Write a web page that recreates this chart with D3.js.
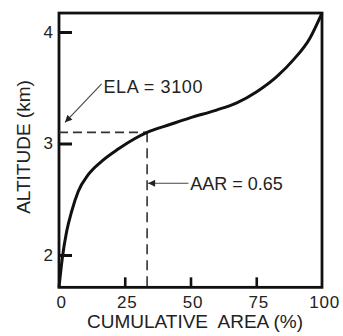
<!DOCTYPE html>
<html>
<head>
<meta charset="utf-8">
<script src="https://cdn.jsdelivr.net/npm/d3@7"></script>
<style>
  html, body { margin: 0; padding: 0; background: #fff; }
  svg { display: block; font-family: "Liberation Sans", Arial, Helvetica, sans-serif; }
</style>
</head>
<body>
<svg id="chart" width="343" height="336"></svg>
<script>
// Hypsometric curve: cumulative area (%) vs altitude (km)
const cumulativeArea = [0, 1.25, 2.9, 4.8, 7.3, 11.1, 16.2, 22.5, 28.9, 33.5, 42.2, 49.8, 59.9, 67.6, 75.2, 82.8, 89.1, 95.4, 100];
const altitudeKm     = [1.71, 1.97, 2.21, 2.39, 2.57, 2.72, 2.84, 2.95, 3.045, 3.10, 3.17, 3.23, 3.30, 3.365, 3.465, 3.60, 3.75, 3.945, 4.17];
const xTicks = [0, 25, 50, 75, 100];
const yTicks = [2, 3, 4];
const ela = 3.1;          // km
const aarPosition = 33.5; // % on the curve at ELA
const elaLabel = "ELA = 3100";
const aarLabel = "AAR = 0.65";
const xTitle = "CUMULATIVE\u00A0 AREA (%)";
const yTitle = "ALTITUDE (km)";

const svg = d3.select("#chart");
const x = d3.scaleLinear().domain([0, 100]).range([59, 322]);
const y = d3.scaleLinear().domain([2, 4]).range([255, 32]);
const yTop = 4.17, yBottom = 1.71;
const ink = "#111";

// frame
svg.append("rect")
  .attr("x", x(0)).attr("y", y(yTop))
  .attr("width", x(100) - x(0)).attr("height", y(yBottom) - y(yTop))
  .attr("fill", "none").attr("stroke", ink).attr("stroke-width", 2.8);

// y axis (inward ticks)
const gy = svg.append("g").attr("transform", `translate(${x(0)},0)`)
  .call(d3.axisLeft(y).tickValues(yTicks).tickSize(-13).tickPadding(6).tickFormat(d3.format("d")));
gy.select(".domain").remove();
gy.selectAll(".tick line").attr("stroke", ink).attr("stroke-width", 3);
gy.selectAll(".tick text").attr("font-size", 17).attr("fill", "#222")
  .attr("font-family", "Liberation Sans, Arial, sans-serif");

// x axis (inward ticks)
const gx = svg.append("g").attr("transform", `translate(0,${y(yBottom)})`)
  .call(d3.axisBottom(x).tickValues(xTicks).tickSize(-10).tickPadding(9).tickFormat(d3.format("d")));
gx.select(".domain").remove();
gx.selectAll(".tick line").attr("stroke", ink).attr("stroke-width", 2.6)
  .attr("display", d => (d === 0 || d === 100) ? "none" : null);
gx.selectAll(".tick text").attr("font-size", 17).attr("fill", "#222")
  .attr("letter-spacing", 0.8).attr("dx", 2)
  .attr("font-family", "Liberation Sans, Arial, sans-serif");

// axis titles
svg.append("text")
  .attr("x", 195).attr("y", 328)
  .attr("text-anchor", "middle").attr("font-size", 19).attr("fill", "#222")
  .text(xTitle);
svg.append("text")
  .attr("transform", `translate(30,147) rotate(-90)`)
  .attr("text-anchor", "middle").attr("font-size", 19).attr("fill", "#222")
  .text(yTitle);

// dashed ELA / AAR lines
svg.append("line")
  .attr("x1", x(0)).attr("x2", x(aarPosition))
  .attr("y1", y(ela)).attr("y2", y(ela))
  .attr("stroke", "#333").attr("stroke-width", 1.6).attr("stroke-dasharray", "9,5");
svg.append("line")
  .attr("x1", x(aarPosition)).attr("x2", x(aarPosition))
  .attr("y1", y(ela)).attr("y2", y(yBottom))
  .attr("stroke", "#333").attr("stroke-width", 1.6).attr("stroke-dasharray", "10,6");

// curve
const pts = cumulativeArea.map((a, i) => [a, altitudeKm[i]]);
svg.append("path")
  .datum(pts)
  .attr("fill", "none").attr("stroke", ink).attr("stroke-width", 3)
  .attr("stroke-linejoin", "round")
  .attr("d", d3.line().x(d => x(d[0])).y(d => y(d[1])).curve(d3.curveMonotoneX));

// arrowhead marker
const defs = svg.append("defs");
defs.append("marker")
  .attr("id", "arrow").attr("viewBox", "0 0 10 10")
  .attr("refX", 10).attr("refY", 5)
  .attr("markerWidth", 9).attr("markerHeight", 7)
  .attr("markerUnits", "userSpaceOnUse")
  .attr("orient", "auto")
  .append("path").attr("d", "M0,0 L10,5 L0,10 Z").attr("fill", "#222");

// ELA annotation
svg.append("line")
  .attr("x1", x(16.2)).attr("y1", y(3.535))
  .attr("x2", x(2.3)).attr("y2", y(3.19))
  .attr("stroke", "#444").attr("stroke-width", 1.1)
  .attr("marker-end", "url(#arrow)");
svg.append("text")
  .attr("x", x(16.9)).attr("y", y(3.45))
  .attr("font-size", 18).attr("fill", "#222").attr("letter-spacing", 0.6)
  .text(elaLabel);

// AAR annotation
svg.append("line")
  .attr("x1", x(49.2)).attr("y1", y(2.643))
  .attr("x2", x(aarPosition) + 1).attr("y2", y(2.643))
  .attr("stroke", "#444").attr("stroke-width", 1.1)
  .attr("marker-end", "url(#arrow)");
svg.append("text")
  .attr("x", x(49.9)).attr("y", y(2.583))
  .attr("font-size", 18).attr("fill", "#222")
  .text(aarLabel);
</script>
</body>
</html>
